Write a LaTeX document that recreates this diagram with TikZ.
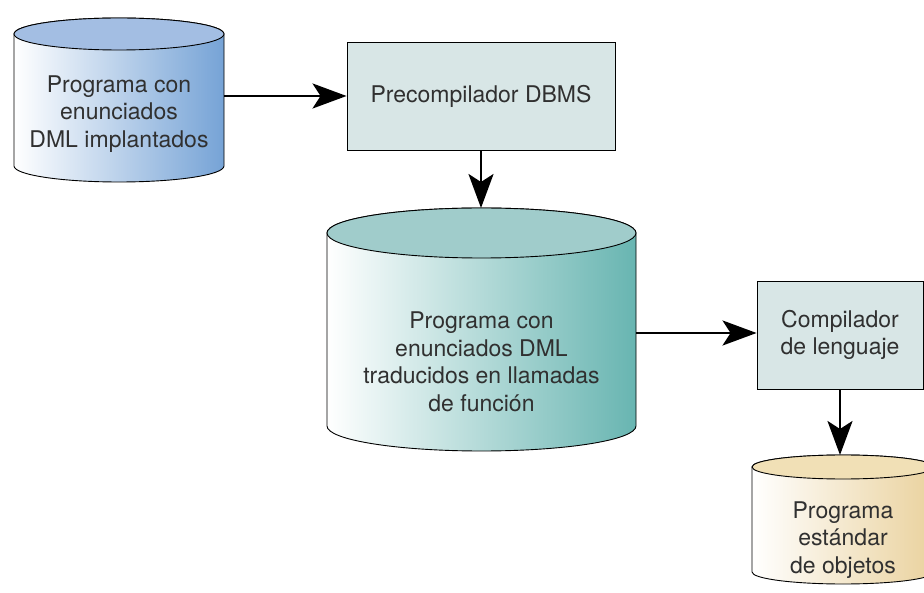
\documentclass[tikz,border=0pt]{standalone}
\usepackage{fontspec}
\setmainfont{TeX Gyre Heros}
\usepackage{xcolor}
\usepackage{tikz}
\usetikzlibrary{arrows.meta, positioning, calc}

\definecolor{txtgray}{HTML}{303030}
\definecolor{boxfill}{HTML}{D8E6E6}
\definecolor{blueTop}{HTML}{A3BEE3}
\definecolor{blueSide}{HTML}{76A3D6}
\definecolor{tealTop}{HTML}{A0CCCB}
\definecolor{tealSide}{HTML}{68B5B1}
\definecolor{sandTop}{HTML}{F1E0B6}
\definecolor{sandSide}{HTML}{EAD29E}

\tikzset{
  box/.style={draw=black, line width=0.9pt, fill=boxfill, text=txtgray,
    align=center, inner sep=0pt},
  label/.style={text=txtgray, align=center, inner sep=0pt},
  flow/.style={line width=2.6pt, -{Stealth[length=34pt, width=25pt, inset=8pt]}},
  rim/.style={draw=black, line width=0.9pt}
}

\begin{document}
\begin{tikzpicture}[x=1pt, y=1pt, font=\fontsize{23}{27.5}\selectfont]
  \clip (0,0) rectangle (924,-593);
  \useasboundingbox (0,0) rectangle (924,-593);

  % First cylinder (source program)
  \shade[rim, left color=white, right color=blueSide]
    (14,-34) -- (14,-166) arc[start angle=180, end angle=360, x radius=105pt, y radius=16pt]
    -- (224,-34) arc[start angle=0, end angle=180, x radius=105pt, y radius=16pt] -- cycle;
  \filldraw[rim, fill=blueTop] (119,-34) ellipse[x radius=105pt, y radius=16pt];
  \node[label] (prog) at (119,-114) {Programa con\\enunciados\\DML implantados};
  \coordinate (prog-e) at (224,-96);

  % Precompiler
  \node[box, minimum width=268pt, minimum height=108pt] (pre) at (481,-96) {Precompilador DBMS};

  % Second cylinder (translated program)
  \shade[rim, left color=white, right color=tealSide]
    (327,-233) -- (327,-426) arc[start angle=180, end angle=360, x radius=154.5pt, y radius=25pt]
    -- (636,-233) arc[start angle=0, end angle=180, x radius=154.5pt, y radius=25pt] -- cycle;
  \filldraw[rim, fill=tealTop] (481.5,-233) ellipse[x radius=154.5pt, y radius=25pt];
  \node[label] (trad) at (481.5,-362) {Programa con\\enunciados DML\\traducidos en llamadas\\de función};
  \coordinate (trad-n) at (481,-208);
  \coordinate (trad-e) at (636,-333);

  % Compiler
  \node[box, minimum width=166pt, minimum height=108pt] (comp) at (840,-335) {Compilador\\de lenguaje};

  % Third cylinder (object program)
  \shade[rim, left color=white, right color=sandSide]
    (752,-467) -- (752,-572) arc[start angle=180, end angle=360, x radius=91pt, y radius=12pt]
    -- (934,-467) arc[start angle=0, end angle=180, x radius=91pt, y radius=12pt] -- cycle;
  \filldraw[rim, fill=sandTop] (843,-467) ellipse[x radius=91pt, y radius=12pt];
  \node[label] (obj) at (843,-540) {Programa\\estándar\\de objetos};
  \coordinate (obj-n) at (840,-455);

  % Arrows
  \draw[flow] (prog-e) -- (pre.west);
  \draw[flow] (pre.south) -- (trad-n);
  \draw[flow] (trad-e) -- (trad-e -| comp.west);
  \draw[flow] (comp.south) -- (obj-n);
\end{tikzpicture}
\end{document}
